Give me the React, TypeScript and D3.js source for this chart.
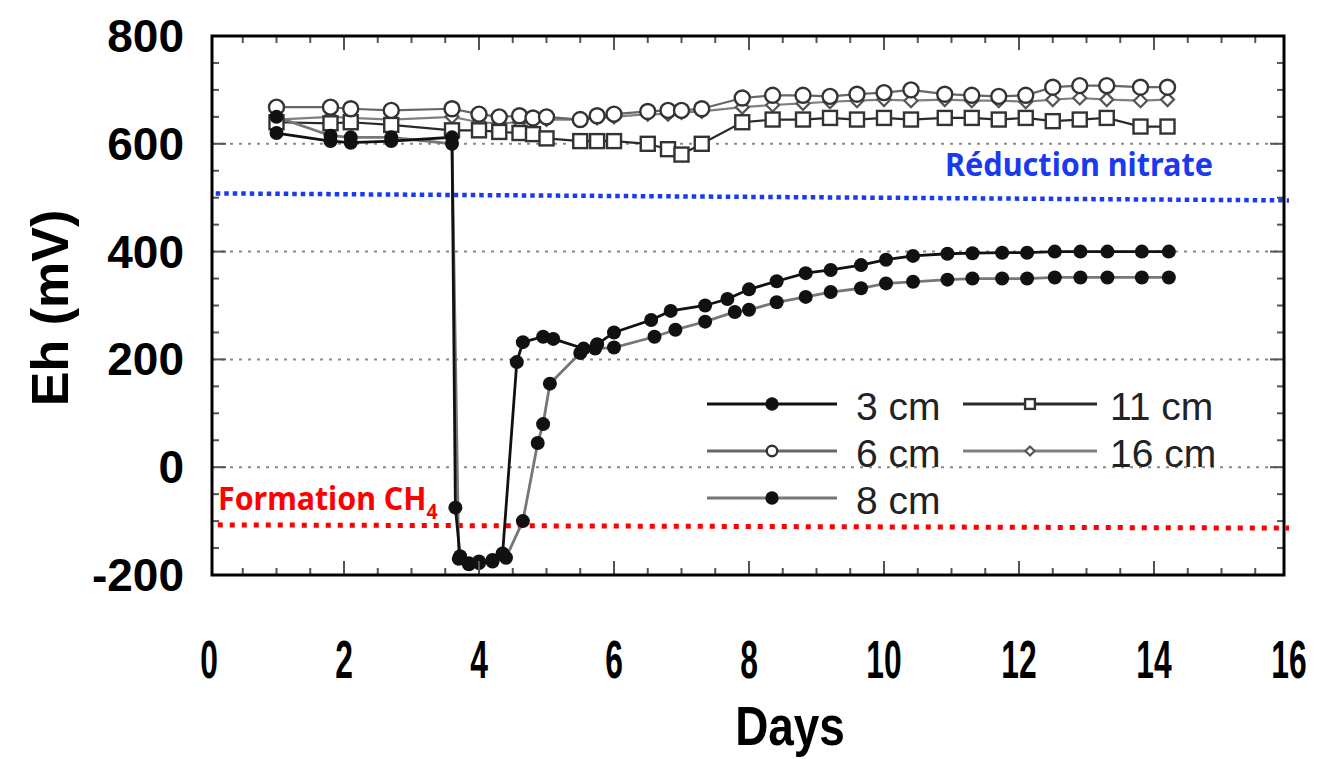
import React from 'react';
import * as d3 from 'd3';

// sampling days for the three upper probes (6, 11, 16 cm)
const daysTop = [1, 1.8, 2.1, 2.7, 3.6, 4.0, 4.3, 4.6, 4.8, 5.0, 5.5, 5.75, 6.0, 6.5, 6.8, 7.0, 7.3, 7.9, 8.35, 8.8, 9.2, 9.6, 10.0, 10.4, 10.9, 11.3, 11.7, 12.1, 12.5, 12.9, 13.3, 13.8, 14.2];
const eh6 = [668, 668, 665, 662, 665, 655, 650, 652, 648, 650, 645, 652, 655, 660, 662, 662, 665, 685, 690, 690, 688, 692, 695, 700, 692, 690, 688, 690, 705, 708, 708, 705, 705];
const eh11 = [640, 638, 640, 635, 625, 625, 622, 620, 618, 610, 605, 605, 605, 600, 590, 580, 600, 640, 645, 645, 648, 645, 648, 645, 648, 648, 645, 648, 642, 645, 648, 632, 632];
const eh16 = [645, 650, 648, 645, 650, 640, 638, 640, 642, 645, 645, 648, 650, 655, 655, 658, 660, 668, 672, 675, 678, 680, 682, 680, 682, 680, 680, 678, 682, 685, 682, 680, 682];

// 3 cm
const days3 = [1, 1.8, 2.1, 2.7, 3.6, 3.65, 3.72, 3.85, 4.0, 4.2, 4.35, 4.56, 4.65, 4.95, 5.1, 5.55, 5.75, 6.0, 6.55, 6.84, 7.35, 7.68, 8.0, 8.41, 8.84, 9.21, 9.66, 10.03, 10.43, 10.94, 11.31, 11.75, 12.12, 12.53, 12.91, 13.31, 13.82, 14.22];
const eh3 = [620, 605, 602, 605, 612, -75, -165, -178, -175, -172, -160, 195, 232, 242, 238, 220, 228, 250, 273, 290, 300, 312, 330, 345, 360, 366, 375, 385, 392, 396, 397, 398, 398, 400, 400, 400, 400, 400];

// 8 cm
const days8 = [1, 1.8, 2.1, 2.7, 3.6, 3.7, 3.85, 4.0, 4.2, 4.4, 4.65, 4.87, 4.95, 5.05, 5.5, 5.72, 6.0, 6.6, 6.91, 7.35, 7.79, 8.0, 8.41, 8.84, 9.21, 9.66, 10.03, 10.43, 10.94, 11.31, 11.75, 12.12, 12.53, 12.91, 13.31, 13.82, 14.22];
const eh8 = [650, 615, 612, 612, 600, -170, -180, -178, -175, -168, -100, 45, 80, 155, 212, 220, 222, 242, 255, 270, 288, 292, 306, 316, 325, 332, 341, 344, 348, 350, 350, 350, 352, 352, 352, 352, 352];

const xTicks = [0, 2, 4, 6, 8, 10, 12, 14, 16];
const yTicks = [-200, 0, 200, 400, 600, 800];
const gridValues = [0, 200, 400, 600];

// threshold annotations: [day, mV]
const nitrateLine = [[0.1, 508], [16.0, 495]];
const methaneLine = [[0.13, -107], [16.0, -113]];

const W = 1327;
const H = 759;
const frame = { left: 212, right: 1284, top: 36, bottom: 575 };

const x = d3.scaleLinear().domain([0, 16]).range([209, 1289]);
const y = d3.scaleLinear().domain([-200, 800]).range([575, 36]);

const zip = (a, b) => a.map((d, i) => [d, b[i]]);

const series = [
  { key: '16', label: '16 cm', pts: zip(daysTop, eh16), line: '#808080', marker: 'diamond', lw: 2.2 },
  { key: '11', label: '11 cm', pts: zip(daysTop, eh11), line: '#2a2a2a', marker: 'square', lw: 2.2 },
  { key: '6', label: '6 cm', pts: zip(daysTop, eh6), line: '#666', marker: 'open', lw: 2.2 },
  { key: '8', label: '8 cm', pts: zip(days8, eh8), line: '#777', marker: 'filled', lw: 2.8 },
  { key: '3', label: '3 cm', pts: zip(days3, eh3), line: '#111', marker: 'filled', lw: 2.8 },
];

const legendRows = [
  { key: '3', col: 0, row: 0 },
  { key: '11', col: 1, row: 0 },
  { key: '6', col: 0, row: 1 },
  { key: '16', col: 1, row: 1 },
  { key: '8', col: 0, row: 2 },
];

function Marker({ kind, cx, cy, s = 1 }) {
  if (kind === 'filled') return <circle cx={cx} cy={cy} r={7 * s} fill="#111" />;
  if (kind === 'open') return <circle cx={cx} cy={cy} r={7.5 * s} fill="#fff" stroke="#333" strokeWidth={2.4} />;
  if (kind === 'square') {
    const h = 7 * s;
    return <rect x={cx - h} y={cy - h} width={2 * h} height={2 * h} fill="#fff" stroke="#333" strokeWidth={2.4} />;
  }
  const r = 6.5 * s;
  return <path d={`M${cx},${cy - r}L${cx + r},${cy}L${cx},${cy + r}L${cx - r},${cy}Z`} fill="#fff" stroke="#555" strokeWidth={2.2} />;
}

export default function App() {
  const line = d3.line().x(d => x(d[0])).y(d => y(d[1]));
  const font = '"Liberation Sans", Arial, sans-serif';
  const calib = '"Noto Sans", "Open Sans", sans-serif';

  const minorX = d3.range(0.5, 16, 0.5);
  const minorY = d3.range(-150, 800, 50);

  return (
    <svg width={W} height={H} style={{ position: 'absolute', left: 0, top: 0, background: '#fff' }}>
      {/* dotted grid */}
      {gridValues.map(v => (
        <line key={v} x1={frame.left} x2={frame.right} y1={y(v)} y2={y(v)}
          stroke="#8a8a8a" strokeWidth={2} strokeDasharray="3,6" />
      ))}

      {/* threshold annotations */}
      <path d={line(nitrateLine)} stroke="#1a3af0" strokeWidth={4.5} strokeDasharray="4.5,4" fill="none" />
      <path d={line(methaneLine)} stroke="#ff0000" strokeWidth={5} strokeDasharray="5,7" fill="none" />

      {/* series */}
      {series.map(s => (
        <path key={s.key} d={line(s.pts)} fill="none" stroke={s.line} strokeWidth={s.lw} />
      ))}
      {series.map(s => (
        <g key={s.key + 'm'}>
          {s.pts.map((p, i) => <Marker key={i} kind={s.marker} cx={x(p[0])} cy={y(p[1])} />)}
        </g>
      ))}

      {/* frame ticks */}
      {minorX.map(v => {
        const major = v % 2 === 0;
        return (
          <g key={'tx' + v} stroke="#555" strokeWidth={2}>
            <line x1={x(v)} x2={x(v)} y1={frame.bottom} y2={frame.bottom - (major ? 14 : 7)} />
            <line x1={x(v)} x2={x(v)} y1={frame.top} y2={frame.top + (major ? 14 : 7)} />
          </g>
        );
      })}
      {minorY.map(v => {
        const major = v % 200 === 0;
        return (
          <g key={'ty' + v} stroke="#555" strokeWidth={2}>
            <line x1={frame.left} x2={frame.left + (major ? 14 : 7)} y1={y(v)} y2={y(v)} />
            <line x1={frame.right} x2={frame.right - (major ? 14 : 7)} y1={y(v)} y2={y(v)} />
          </g>
        );
      })}
      <rect x={frame.left} y={frame.top} width={frame.right - frame.left} height={frame.bottom - frame.top}
        fill="none" stroke="#000" strokeWidth={3} />

      {/* legend */}
      {legendRows.map(l => {
        const s = series.find(d => d.key === l.key);
        const x0 = l.col === 0 ? 707 : 963;
        const x1 = l.col === 0 ? 837 : 1097;
        const cy = 404 + l.row * 47;
        const tx = l.col === 0 ? 856 : 1110;
        return (
          <g key={'lg' + l.key}>
            <line x1={x0} x2={x1} y1={cy} y2={cy} stroke={s.line} strokeWidth={3} />
            <Marker kind={s.marker} cx={(x0 + x1) / 2} cy={cy} s={s.marker === 'filled' ? 0.95 : 0.7} />
            <text x={tx} y={cy + 16} fontFamily={font} fontSize={39} fill="#222">{s.label}</text>
          </g>
        );
      })}

      {/* annotation labels */}
      <text x={945} y={176} fontFamily={calib} fontWeight="bold" fontSize={33} fill="#1a3af0"
        textLength={268} lengthAdjust="spacingAndGlyphs">Réduction nitrate</text>
      <text transform="translate(218,510) scale(0.92,1)" fontFamily={calib} fontWeight="bold"
        fontSize={33} fill="#ff0000">
        Formation CH<tspan dy={9} fontSize={21}>4</tspan>
      </text>

      {/* y tick labels */}
      {yTicks.map(v => (
        <text key={'yl' + v} x={184} y={y(v) + 16} textAnchor="end" fontFamily={font}
          fontWeight="bold" fontSize={46} fill="#000">{v}</text>
      ))}

      {/* x tick labels */}
      {xTicks.map(v => (
        <text key={'xl' + v} transform={`translate(${x(v)},678) scale(0.6,1)`} textAnchor="middle"
          fontFamily={font} fontWeight="bold" fontSize={53} fill="#000">{v}</text>
      ))}

      <text transform="translate(790,745) scale(0.82,1)" textAnchor="middle" fontFamily={font}
        fontWeight="bold" fontSize={56} fill="#000">Days</text>
      <text transform="translate(68,308) rotate(-90)" textAnchor="middle" fontFamily={font}
        fontWeight="bold" fontSize={52} fill="#000">Eh (mV)</text>
    </svg>
  );
}
